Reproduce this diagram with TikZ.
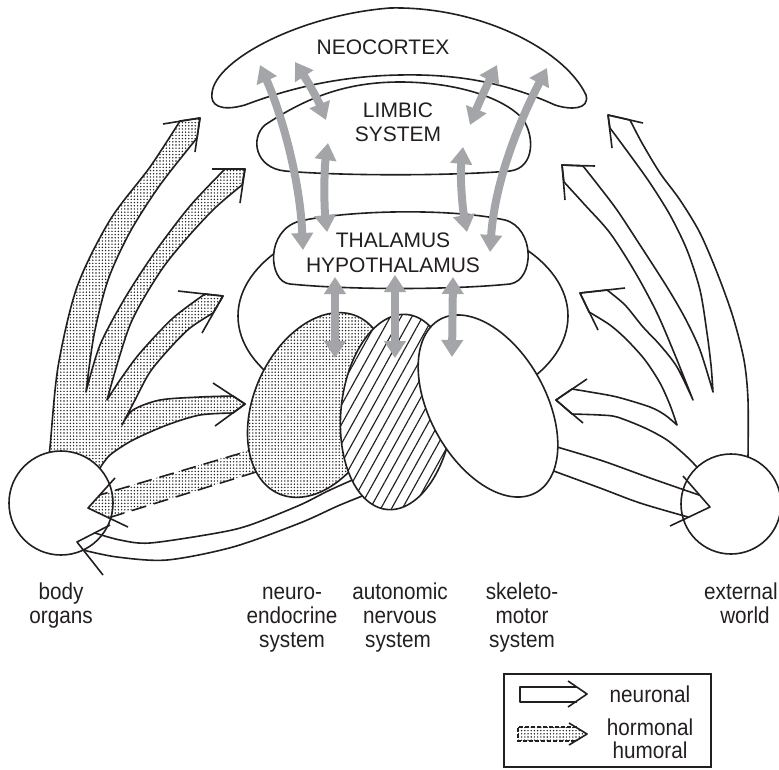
\documentclass[tikz,border=0pt]{standalone}
\usepackage{fontspec}
\setmainfont{Liberation Sans}
\newfontfamily\labfont[FakeStretch=0.9]{Liberation Sans}
\usetikzlibrary{arrows.meta,patterns.meta}
\definecolor{ink}{HTML}{231F20}
\definecolor{gar}{HTML}{A3A5A8}
\tikzset{
  ol/.style={draw=ink, line width=1.6pt, line join=round},
  dotfill/.style={pattern={Dots[radius=0.8pt,distance=3.2pt]}, pattern color=ink},
  hatchfill/.style={pattern={Lines[angle=61,distance=9.4pt,line width=1.15pt]}, pattern color=ink},
  garrow/.style={draw=gar, line width=8pt, {Triangle[width=21pt,length=17pt]}-{Triangle[width=21pt,length=17pt]}},
  headtxt/.style={font=\fontsize{21}{24}\selectfont, text=ink, inner sep=0pt, anchor=base},
  labtxt/.style={font=\labfont\fontsize{23}{24}\selectfont, text=ink, inner sep=0pt, anchor=base},
}
\begin{document}
\begin{tikzpicture}[x=1pt, y=-1pt]
\useasboundingbox (0,0) rectangle (779,769);

% ---------- left fan (body organs -> brain), dotted ----------
\draw[ol, preaction={fill=white}, dotfill]
  plot[smooth] coordinates {(48,458) (50,447) (58,367) (77,287) (110,220) (150,167) (180,121)}
  -- (200,118) -- (197,138)
  -- plot[smooth] coordinates {(197,138) (160,185) (130,232) (108,280) (94,335) (86,392)}
  -- plot[smooth] coordinates {(86,392) (100,345) (125,298) (155,252) (190,206) (225,169)}
  -- (245,169) -- (242,185)
  -- plot[smooth] coordinates {(242,185) (215,208) (187,238) (160,272) (130,325) (107,400)}
  -- plot[smooth] coordinates {(107,400) (120,380) (140,353) (173,318) (205,294)}
  -- (223,296) -- (213,313)
  -- plot[smooth] coordinates {(213,313) (190,328) (170,348) (150,372) (135,400) (122,425)}
  -- plot[smooth] coordinates {(122,425) (133,410) (160,400) (200,397) (233,396)}
  -- (245,404) -- (233,413)
  -- plot[smooth] coordinates {(233,413) (200,415) (167,425) (133,440) (110,455) (100,468)}
  -- cycle;
\draw[ol] (163,124) -- (200,118) -- (195,152);
\draw[ol] (212,169) -- (245,169) -- (240,203);
\draw[ol] (178,291) -- (223,296) -- (202,333);
\draw[ol] (213,383) -- (245,404) -- (215,426);

% ---------- right fan (external world -> brain), white ----------
\draw[ol, fill=white]
  plot[smooth] coordinates {(748,458) (748,400) (744,360) (733,317) (718,275) (700,233) (680,200) (660,173) (642,143) (630,120)}
  -- (608,115) -- (610,128)
  -- plot[smooth] coordinates {(610,128) (630,155) (650,183) (670,215) (687,250) (700,290) (707,333) (711,365) (713,392)}
  -- plot[smooth] coordinates {(713,392) (700,350) (685,318) (667,287) (640,245) (617,210) (598,185) (583,166)}
  -- (562,165) -- (564,182)
  -- plot[smooth] coordinates {(564,182) (585,205) (610,233) (635,272) (657,313) (675,355) (693,400)}
  -- plot[smooth] coordinates {(693,400) (677,367) (660,345) (643,327) (625,305) (607,290)}
  -- (580,293) -- (589,312)
  -- plot[smooth] coordinates {(589,312) (610,325) (627,340) (645,360) (660,383) (670,405) (677,425)}
  -- plot[smooth] coordinates {(677,425) (665,415) (650,407) (617,397) (590,392) (572,389)}
  -- (556,400) -- (572,414)
  -- plot[smooth] coordinates {(572,414) (600,415) (617,417) (645,428) (667,440) (685,455) (697,467)}
  -- cycle;
\draw[ol] (643,123) -- (608,115) -- (612,148);
\draw[ol] (595,166) -- (562,165) -- (565,200);
\draw[ol] (625,288) -- (580,293) -- (598,330);
\draw[ol] (587,379) -- (556,400) -- (583,423);

% ---------- body organs / external world ----------
\draw[ol, fill=white] (61,503) circle[radius=52];
\draw[ol, fill=white] (731,504) circle[radius=50];

% ---------- efferent bands ----------
% autonomic -> body organs (neuronal)
\draw[ol] plot[smooth] coordinates {(375,470) (330,490) (300,505) (250,525) (217,533) (150,543) (120,540) (95,533)};
\draw[ol] plot[smooth] coordinates {(385,487) (340,505) (300,523) (233,547) (167,560) (117,557) (83,550)};
\draw[ol] (110,525) -- (77,542) -- (103,575);
% neuroendocrine -> body organs (hormonal)
\path[dotfill] (262,446) -- (99.5,495) -- (88,508) -- (108,518) -- (256,472) -- cycle;
\draw[ol, dash pattern=on 15pt off 8pt] (262,447) -- (99.5,495);
\draw[ol, dash pattern=on 15pt off 8pt] (256,472) -- (108,518);
\draw[ol] (115,478) -- (88,508) -- (128,527);
% skeletomotor -> external world
\draw[ol] plot[smooth] coordinates {(540,442) (600,460) (650,478) (699,495)};
\draw[ol] plot[smooth] coordinates {(540,466) (600,488) (640,503) (688,517)};
\draw[ol] (683,476) -- (710,507) -- (670,526);

% ---------- brain stem body and effector systems ----------
\draw[ol, fill=white] (403,316) ellipse[x radius=165, y radius=100];
\draw[ol, preaction={fill=white}, dotfill]
  plot[domain=0:360, samples=121, variable=\t] ({318+39.45*cos(\t)-58.46*sin(\t)},{405-88.61*cos(\t)-26.03*sin(\t)}) -- cycle;
\draw[ol, preaction={fill=white}, hatchfill]
  plot[domain=0:360, samples=121, variable=\t] ({397+10.24*cos(\t)-55.69*sin(\t)},{412-97.46*cos(\t)-5.85*sin(\t)}) -- cycle;
\draw[ol, fill=white]
  plot[domain=0:360, samples=121, variable=\t] ({488-48.0*cos(\t)-50.73*sin(\t)},{406-86.59*cos(\t)+28.12*sin(\t)}) -- cycle;

% ---------- thalamus / limbic / neocortex ----------
\draw[ol, fill=white] (300,221) .. controls (350,210) and (450,208) .. (505,220)
  .. controls (535,228) and (535,280) .. (510,284)
  .. controls (450,290) and (350,290) .. (290,284)
  .. controls (268,282) and (265,230) .. (300,221) -- cycle;
\draw[ol, fill=white] (265,125) .. controls (310,95) and (350,82) .. (400,82)
  .. controls (450,82) and (500,95) .. (522,118)
  .. controls (535,135) and (535,168) .. (510,171)
  .. controls (450,176) and (340,176) .. (285,171)
  .. controls (255,168) and (250,138) .. (265,125) -- cycle;
\draw[ol, fill=white] (212,93) .. controls (215,60) and (300,15) .. (390,8)
  .. controls (480,6) and (565,50) .. (586,95)
  .. controls (590,110) and (570,110) .. (555,105)
  .. controls (500,80) and (450,74) .. (400,75)
  .. controls (340,76) and (290,88) .. (245,105)
  .. controls (220,112) and (210,105) .. (212,93) -- cycle;

\node[headtxt] (neo) at (383,54) {NEOCORTEX};
\node[headtxt] (lim1) at (398,117) {LIMBIC};
\node[headtxt] (lim2) at (398,141) {SYSTEM};
\node[headtxt] (tha1) at (393,247) {THALAMUS};
\node[headtxt] (tha2) at (393,272) {HYPOTHALAMUS};

% ---------- grey two-way arrows ----------
\coordinate (g1a) at (260,65);  \coordinate (g1b) at (303,250);
\coordinate (g2a) at (295,62);  \coordinate (g2b) at (326,120);
\coordinate (g3a) at (328,143); \coordinate (g3b) at (327,232);
\coordinate (g4a) at (463,147); \coordinate (g4b) at (467,232);
\coordinate (g5a) at (497,65);  \coordinate (g5b) at (470,125);
\coordinate (g6a) at (547,68);  \coordinate (g6b) at (490,252);
\coordinate (g7a) at (335,277); \coordinate (g7b) at (335,358);
\coordinate (g8a) at (395,275); \coordinate (g8b) at (395,358);
\coordinate (g9a) at (453,277); \coordinate (g9b) at (452,357);
\draw[garrow] (g1a) .. controls (282,115) and (300,180) .. (g1b);
\draw[garrow] (g2a) .. controls (308,82) and (318,100) .. (g2b);
\draw[garrow] (g3a) .. controls (324,170) and (324,205) .. (g3b);
\draw[garrow] (g4a) .. controls (460,175) and (462,205) .. (g4b);
\draw[garrow] (g5a) .. controls (487,85) and (478,105) .. (g5b);
\draw[garrow] (g6a) .. controls (520,120) and (495,180) .. (g6b);
\draw[garrow] (g7a) -- (g7b);
\draw[garrow] (g8a) -- (g8b);
\draw[garrow] (g9a) -- (g9b);

% ---------- labels ----------
\node[labtxt] (bo1) at (61,599) {body};
\node[labtxt] (bo2) at (61,623) {organs};
\node[labtxt] (ne1) at (292,599) {neuro-};
\node[labtxt] (ne2) at (292,623) {endocrine};
\node[labtxt] (ne3) at (292,647) {system};
\node[labtxt] (au1) at (400,599) {autonomic};
\node[labtxt] (au2) at (400,623) {nervous};
\node[labtxt] (au3) at (398,647) {system};
\node[labtxt] (sk1) at (522,599) {skeleto-};
\node[labtxt] (sk2) at (522,623) {motor};
\node[labtxt] (sk3) at (522,647) {system};
\node[labtxt] (ex1) at (741,599) {external};
\node[labtxt] (ex2) at (745,623) {world};

% ---------- legend ----------
\draw[draw=ink, line width=1.4pt] (504,674) rectangle (711,767);
\draw[ol] (577,687) -- (520,687) -- (520,702) -- (577,702);
\draw[ol] (568,681) -- (587,694) -- (568,707);
\path[dotfill] (518,727) -- (577,727) -- (587,734) -- (577,741) -- (518,741) -- cycle;
\draw[draw=ink, line width=1.2pt, dash pattern=on 4pt off 2pt] (577,727) -- (518,727) -- (518,741) -- (577,741);
\draw[ol] (569,723) -- (587,734) -- (569,745);
\node[labtxt] (lg1) at (650,702) {neuronal};
\node[labtxt] (lg2) at (650,735) {hormonal};
\node[labtxt] (lg3) at (650,758) {humoral};
\end{tikzpicture}
\end{document}
